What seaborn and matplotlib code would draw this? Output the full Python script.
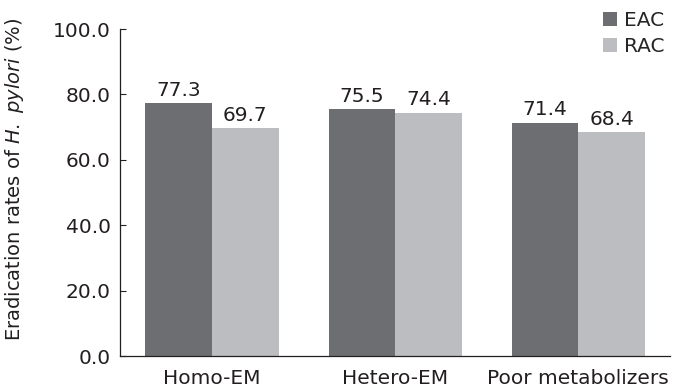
import pandas as pd
import seaborn as sns
import matplotlib.pyplot as plt

groups = ["Homo-EM", "Hetero-EM", "Poor metabolizers"]
eac = [77.3, 75.5, 71.4]
rac = [69.7, 74.4, 68.4]
series = ["EAC", "RAC"]
yticks = [0, 20, 40, 60, 80, 100]

df = pd.DataFrame({
    "group": groups * 2,
    "series": ["EAC"] * 3 + ["RAC"] * 3,
    "rate": eac + rac,
})

sns.set_style("white")
plt.rcParams["font.family"] = "sans-serif"
plt.rcParams["font.sans-serif"] = ["DejaVu Sans"]
plt.rcParams["mathtext.fontset"] = "dejavusans"

fig = plt.figure(figsize=(6.75, 3.89), dpi=100)
ax = fig.add_axes([0.1785, 0.0848, 0.814, 0.8406])
sns.barplot(data=df, x="group", y="rate", hue="series", order=groups,
            hue_order=series, palette=["#6d6e71", "#bcbdc0"],
            width=0.727, saturation=1, linewidth=0, ax=ax)

for cont in ax.containers:
    ax.bar_label(cont, fmt="%.1f", padding=2.5, fontsize=14.5, color="#231f20")

ax.set_xlim(-0.5, 2.5)
ax.set_ylim(0, 100)
ax.set_yticks(yticks)
ax.set_yticklabels([f"{v:.1f}" for v in yticks])
ax.tick_params(axis="y", length=4, width=0.8, labelsize=14.5, colors="#231f20",
               direction="in", left=True, pad=7)
ax.tick_params(axis="x", length=0, labelsize=14.5, colors="#231f20", pad=9)
ax.set_xlabel("")
ax.set_ylabel("Eradication rates of $\\it{H.}$ $\\it{pylori}$ (%)", fontsize=14,
              color="#231f20")
ax.yaxis.set_label_coords(-0.172, 0.54)
for s in ["top", "right"]:
    ax.spines[s].set_visible(False)
for s in ["left", "bottom"]:
    ax.spines[s].set_color("#231f20")
    ax.spines[s].set_linewidth(0.9)

ax.get_legend().remove()
handles, labels = ax.get_legend_handles_labels()
fig.legend(handles, labels, frameon=False, fontsize=14.5, loc="upper left",
           bbox_to_anchor=(0.893, 0.972), handlelength=0.72, handleheight=0.72,
           handletextpad=0.31, labelspacing=0.35, borderpad=0, borderaxespad=0)

fig.savefig("out.png", dpi=100)
